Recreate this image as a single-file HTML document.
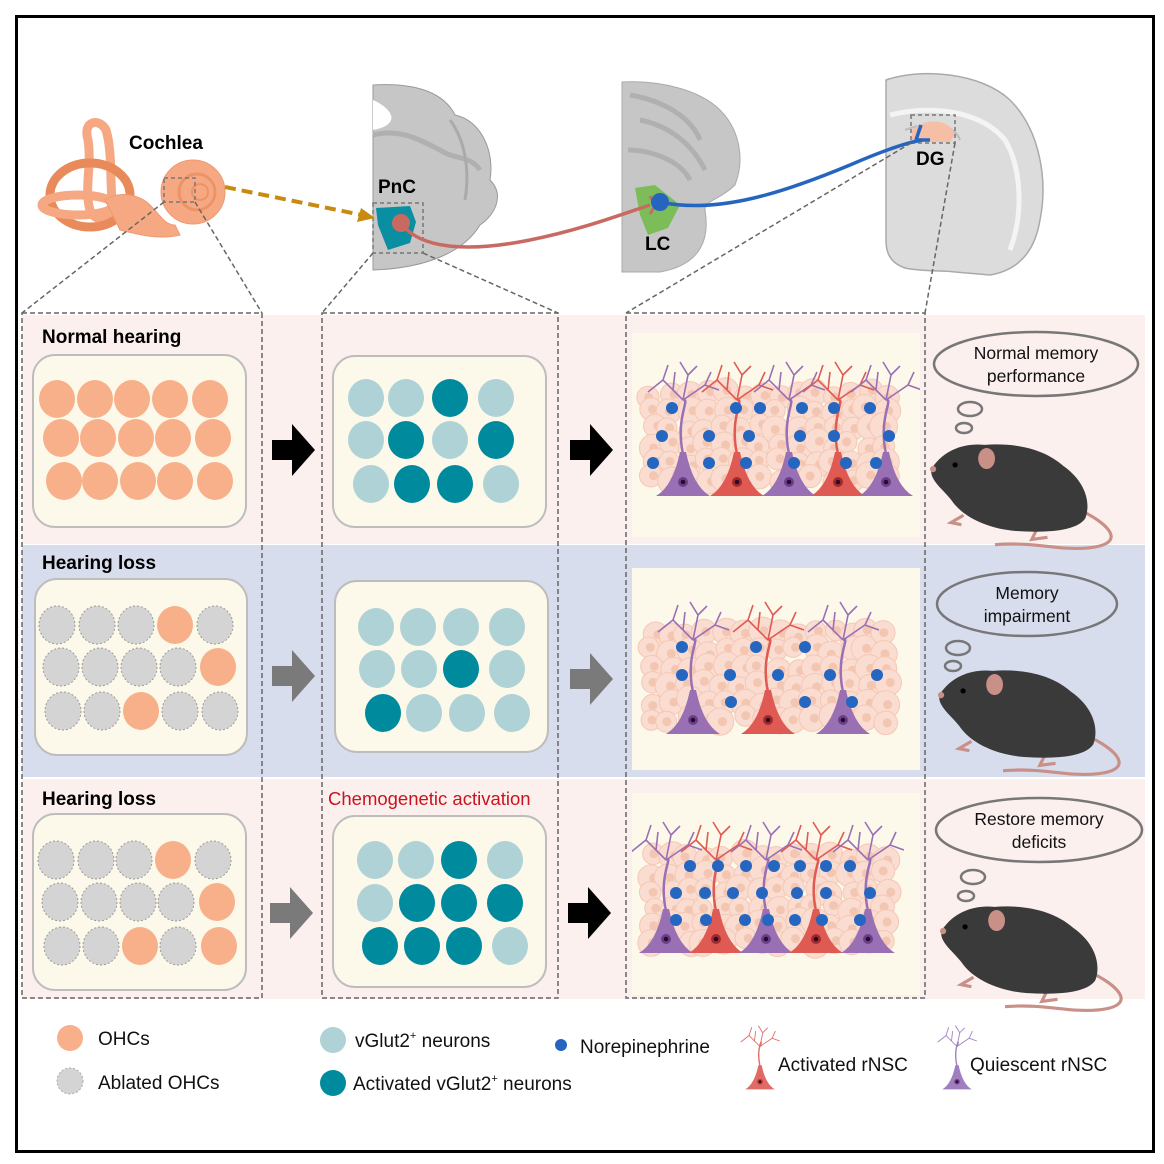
<!DOCTYPE html>
<html><head><meta charset="utf-8"><style>
html,body{margin:0;padding:0;background:#fff}
svg{display:block;font-family:"Liberation Sans",Arial,sans-serif}
</style></head><body>
<svg id="s" width="1164" height="1164" viewBox="0 0 1164 1164" xmlns="http://www.w3.org/2000/svg">
<rect x="0" y="0" width="1164" height="1164" fill="#fff"/>
<rect x="16.5" y="16.5" width="1137" height="1135" fill="none" stroke="#000" stroke-width="3"/>
<rect x="22" y="315" width="1123" height="229" fill="#fcf0ee"/>
<rect x="22" y="545" width="1123" height="232" fill="#d8ddee"/>
<rect x="22" y="779" width="1123" height="220" fill="#fcf0ee"/>
<defs>
<clipPath id="c1"><rect x="632" y="333" width="288" height="204"/></clipPath>
<clipPath id="c2"><rect x="632" y="568" width="288" height="202"/></clipPath>
<clipPath id="c3"><rect x="632" y="793" width="288" height="202"/></clipPath>
</defs>

<g fill="#f6a882" stroke="#ee9a72" stroke-width="1">
<path d="M88,140 C82,120 100,118 106,130 C112,150 110,175 112,200 C114,220 96,225 90,210 C84,190 92,165 88,140 Z" fill="none" stroke="#f6a882" stroke-width="9"/>
<ellipse cx="90" cy="195" rx="40" ry="32" fill="none" stroke="#e88a5a" stroke-width="9"/>
<ellipse cx="78" cy="205" rx="36" ry="10" fill="none" stroke="#f6a882" stroke-width="9"/>
<path d="M105,200 C120,190 140,195 150,205 C160,215 165,225 175,225 L180,235 C160,240 140,235 120,230 Z"/>
<circle cx="193" cy="192" r="32"/>
<circle cx="197" cy="192" r="18" fill="none" stroke="#ec9468" stroke-width="3"/>
<circle cx="200" cy="192" r="8" fill="none" stroke="#ec9468" stroke-width="2"/>
</g>
<text x="129" y="149" font-size="19" font-weight="bold">Cochlea</text>
<rect x="164" y="178" width="31" height="24" fill="none" stroke="#777" stroke-width="1.5" stroke-dasharray="4,3"/>
<path d="M373,85 C420,82 445,95 455,115 C480,120 495,150 490,180 C505,195 495,215 480,225 C465,250 430,268 373,270 Z" fill="#c6c6c6" stroke="#999" stroke-width="1"/>
<path d="M373,135 C400,128 420,140 440,150 C455,160 470,155 480,170" fill="none" stroke="#b0b0b0" stroke-width="5"/>
<path d="M373,100 C395,110 400,125 373,130 Z" fill="#fff"/>
<path d="M450,120 C465,140 470,170 465,200" fill="none" stroke="#aaa" stroke-width="3"/>
<path d="M376,208 L410,206 L416,222 L410,243 L388,250 L378,225 Z" fill="#0a8ea2"/>
<circle cx="401" cy="223" r="9" fill="#c86a62"/>
<rect x="373" y="203" width="50" height="50" fill="none" stroke="#777" stroke-width="1.5" stroke-dasharray="4,3"/>
<text x="378" y="193" font-size="19" font-weight="bold">PnC</text>
<path d="M622,82 C660,80 700,90 720,110 C740,130 745,160 735,185 C720,200 705,200 705,210 C710,240 700,265 660,272 L622,272 Z" fill="#c6c6c6" stroke="#aaa" stroke-width="1"/>
<path d="M630,95 C660,100 690,115 700,140 M640,120 C665,125 690,140 705,170 M628,150 C650,150 680,160 690,180" fill="none" stroke="#b0b0b0" stroke-width="5"/>
<path d="M635,188 L655,185 L680,205 L668,228 L648,235 L640,215 Z" fill="#7cbd5a"/>
<text x="645" y="250" font-size="19" font-weight="bold">LC</text>
<path d="M886,80 C920,68 980,72 1010,100 C1040,130 1048,180 1040,220 C1035,250 1020,270 990,275 L955,272 C940,270 925,272 905,268 C888,262 886,250 886,240 Z" fill="#dcdcdc" stroke="#aaa" stroke-width="1.5"/>
<path d="M890,115 C930,105 980,110 1005,140 C1020,165 1025,210 1010,250" fill="none" stroke="#f4f4f4" stroke-width="5"/>
<path d="M905,130 C930,120 955,125 960,140" fill="none" stroke="#bbb" stroke-width="2"/>
<path d="M912,130 C925,118 950,118 955,135 L950,142 L912,142 Z" fill="#f4bfa5"/>
<rect x="911" y="115" width="44" height="28" fill="none" stroke="#777" stroke-width="1.5" stroke-dasharray="4,3"/>
<text x="916" y="165" font-size="19" font-weight="bold">DG</text>
<path d="M225,187 L362,215" stroke="#c98a10" stroke-width="4" stroke-dasharray="11,6" fill="none"/>
<path d="M375,218 L357,222 L361,208 Z" fill="#c98a10"/>
<path d="M401,223 C420,250 470,252 530,240 C580,230 620,215 650,205" stroke="#c86a62" stroke-width="3.5" fill="none"/>
<path d="M650,196 L655,206 L650,214" stroke="#c86a62" stroke-width="3" fill="none"/>
<path d="M660,202 C720,215 790,190 850,165 C880,152 905,143 922,140" stroke="#2565c0" stroke-width="3.5" fill="none"/>
<path d="M916,140 L921,125 M916,140 L930,140" stroke="#2565c0" stroke-width="3.5" fill="none"/>
<circle cx="660" cy="202" r="9" fill="#2565c0"/>
<g stroke="#666" stroke-width="1.5" stroke-dasharray="5,3" fill="none">
<path d="M164,202 L22,313 M195,202 L262,313"/>
<path d="M373,253 L322,313 M423,253 L558,313"/>
<path d="M911,143 L626,313 M955,143 L925,313"/>
<rect x="22" y="313" width="240" height="685"/>
<rect x="322" y="313" width="236" height="685"/>
<rect x="626" y="313" width="299" height="685"/>
</g>

<text x="42" y="343" font-size="19" font-weight="bold">Normal hearing</text>
<text x="42" y="569" font-size="19" font-weight="bold">Hearing loss</text>
<text x="42" y="805" font-size="19" font-weight="bold">Hearing loss</text>
<text x="328" y="805" font-size="18.5" fill="#c8141e">Chemogenetic activation</text>

<g fill="#fdf9ea" stroke="#bdbdbd" stroke-width="2">
<rect x="33" y="355" width="213" height="172" rx="22"/>
<rect x="35" y="579" width="212" height="176" rx="22"/>
<rect x="33" y="814" width="213" height="176" rx="22"/>
<rect x="333" y="356" width="213" height="171" rx="22"/>
<rect x="335" y="581" width="213" height="171" rx="22"/>
<rect x="333" y="816" width="213" height="171" rx="22"/>
</g>
<g fill="#fdf9ea">
<rect x="632" y="333" width="288" height="204"/>
<rect x="632" y="568" width="288" height="202"/>
<rect x="632" y="793" width="288" height="202"/>
</g>
<g id="dots"></g>

<g>
<path d="M272,440 h20 v-16 l23,26 l-23,26 v-16 h-20 Z" fill="#000"/>
<path d="M272,666 h20 v-16 l23,26 l-23,26 v-16 h-20 Z" fill="#7a7a7a"/>
<path d="M270,903 h20 v-16 l23,26 l-23,26 v-16 h-20 Z" fill="#7a7a7a"/>
<path d="M570,440 h20 v-16 l23,26 l-23,26 v-16 h-20 Z" fill="#000"/>
<path d="M570,669 h20 v-16 l23,26 l-23,26 v-16 h-20 Z" fill="#7a7a7a"/>
<path d="M568,903 h20 v-16 l23,26 l-23,26 v-16 h-20 Z" fill="#000"/>
</g>

<g id="t1" clip-path="url(#c1)"></g>
<g id="t2" clip-path="url(#c2)"></g>
<g id="t3" clip-path="url(#c3)"></g>

<g fill="#fcf0ee" stroke="#777" stroke-width="2.5">
<ellipse cx="1036" cy="364" rx="102" ry="32"/>
<ellipse cx="970" cy="409" rx="12" ry="7"/><ellipse cx="964" cy="428" rx="8" ry="5"/>
<ellipse cx="1027" cy="604" rx="90" ry="32" fill="#d8ddee"/>
<ellipse cx="958" cy="648" rx="12" ry="7" fill="#d8ddee"/><ellipse cx="953" cy="666" rx="8" ry="5" fill="#d8ddee"/>
<ellipse cx="1039" cy="830" rx="103" ry="32"/>
<ellipse cx="973" cy="877" rx="12" ry="7"/><ellipse cx="966" cy="896" rx="8" ry="5"/>
</g>
<g font-size="17.5" text-anchor="middle" fill="#111">
<text x="1036" y="359">Normal memory</text><text x="1036" y="382">performance</text>
<text x="1027" y="599">Memory</text><text x="1027" y="622">impairment</text>
<text x="1039" y="825">Restore memory</text><text x="1039" y="848">deficits</text>
</g>

<defs>
<g id="mouse">
<path d="M145,42 C170,55 185,72 150,76 C120,79 100,70 60,73" stroke="#c99088" stroke-width="3" fill="none"/>
<path d="M30,45 L18,52 L28,54 M100,58 L95,68 L110,66" stroke="#c99088" stroke-width="3" fill="none"/>
<path d="M0,0 C12,-18 32,-24 50,-22 C75,-24 105,-20 125,-2 C145,12 152,32 146,48 C138,60 110,62 80,60 C55,58 30,48 18,30 C10,20 -4,10 0,0 Z" fill="#3b3a3a"/>
<ellipse cx="52" cy="-9" rx="8" ry="10" fill="#c99088"/>
<circle cx="22" cy="-3" r="2.5" fill="#000"/>
<circle cx="1" cy="1" r="3" fill="#c99088"/>
</g>
</defs>
<use href="#mouse" transform="translate(932,468) scale(1.05)"/>
<use href="#mouse" transform="translate(940,694) scale(1.05)"/>
<use href="#mouse" transform="translate(942,930) scale(1.05)"/>

<g font-size="19" fill="#111">
<circle cx="70" cy="1038" r="13" fill="#f8b08a"/>
<circle cx="70" cy="1081" r="13" fill="#d4d4d4" stroke="#aaa" stroke-dasharray="2,2"/>
<text x="98" y="1045">OHCs</text>
<text x="98" y="1089">Ablated OHCs</text>
<circle cx="333" cy="1040" r="13" fill="#aed2d5"/>
<circle cx="333" cy="1083" r="13" fill="#008a9e"/>
<text x="355" y="1047">vGlut2<tspan font-size="11" dy="-8">+</tspan><tspan dy="8"> neurons</tspan></text>
<text x="353" y="1090">Activated vGlut2<tspan font-size="11" dy="-8">+</tspan><tspan dy="8"> neurons</tspan></text>
<circle cx="561" cy="1045" r="6" fill="#2565c0"/>
<text x="580" y="1053">Norepinephrine</text>
<text x="778" y="1071">Activated rNSC</text>
<text x="970" y="1071">Quiescent rNSC</text>
</g>
<g id="legn"></g>
</svg>
<script>
var NS="http://www.w3.org/2000/svg";
function el(p,t,a){var e=document.createElementNS(NS,t);for(var k in a)e.setAttribute(k,a[k]);p.appendChild(e);return e;}
var D=document.getElementById("dots");
var O="#f8b08a",G="#d4d4d4",L="#aed2d5",T="#008a9e";
function grid(rows){rows.forEach(function(r){var y=r[0];r[1].forEach(function(c,i){var x=r[2][i];
 var a={cx:x,cy:y,rx:18,ry:19,fill:c};if(c==G){a.stroke="#999";a["stroke-dasharray"]="2,2";a["stroke-width"]=1;}el(D,"ellipse",a);});});}
grid([[399,[O,O,O,O,O],[57,95,132,170,210]],[438,[O,O,O,O,O],[61,98,136,173,213]],[481,[O,O,O,O,O],[64,100,138,175,215]]]);
grid([[625,[G,G,G,O,G],[57,97,136,175,215]],[667,[G,G,G,G,O],[61,100,139,178,218]],[711,[G,G,O,G,G],[63,102,141,180,220]]]);
grid([[860,[G,G,G,O,G],[56,96,134,173,213]],[902,[G,G,G,G,O],[60,99,138,176,217]],[946,[G,G,O,G,O],[62,101,140,178,219]]]);
grid([[398,[L,L,T,L],[366,406,450,496]],[440,[L,T,L,T],[366,406,450,496]],[484,[L,T,T,L],[371,412,455,501]]]);
grid([[627,[L,L,L,L],[376,418,461,507]],[669,[L,L,T,L],[377,419,461,507]],[713,[T,L,L,L],[383,424,467,512]]]);
grid([[860,[L,L,T,L],[375,416,459,505]],[903,[L,T,T,T],[375,417,459,505]],[946,[T,T,T,L],[380,422,464,510]]]);

var seed=7;function rnd(){seed=(seed*16807)%2147483647;return seed/2147483647;}
function tissue(TS,y0,y1){for(var y=y0;y<=y1;y+=17){for(var x=652;x<=902;x+=18){var cx=x+rnd()*8-4,cy=y+rnd()*8-4,r=10+rnd()*4;
 el(TS,"circle",{cx:cx,cy:cy,r:r,fill:"#fadcd0",stroke:"#f4c8b6","stroke-width":1});
 el(TS,"circle",{cx:cx+rnd()*3,cy:cy,r:4.5,fill:"#f3c6b2"});}}}
function neuron(g,x,base,top,col,dark,s){s=s||1;
 var st=col;
 el(g,"path",{d:"M"+x+","+(base-34*s)+" C"+(x-8*s)+","+(base-70*s)+" "+(x+8*s)+","+(base-90*s)+" "+x+","+(top+30*s),stroke:st,"stroke-width":2.5*s,fill:"none"});
 var d="";
 d+="M"+x+","+(top+30*s)+" L"+(x-20*s)+","+(top+10*s)+" L"+(x-35*s)+","+(top+22*s)+" M"+(x-20*s)+","+(top+10*s)+" L"+(x-15*s)+","+(top-5*s)+
 " M"+x+","+(top+30*s)+" L"+(x+5*s)+","+(top+5*s)+" L"+(x-3*s)+","+(top-8*s)+" M"+(x+5*s)+","+(top+5*s)+" L"+(x+14*s)+","+(top-4*s)+
 " M"+x+","+(top+30*s)+" L"+(x+22*s)+","+(top+15*s)+" L"+(x+36*s)+","+(top+20*s)+" M"+(x+22*s)+","+(top+15*s)+" L"+(x+28*s)+","+(top+2*s)+
 " M"+(x-10*s)+","+(top+20*s)+" L"+(x-8*s)+","+(top+2*s);
 el(g,"path",{d:d,stroke:st,"stroke-width":1.6*s,fill:"none"});
 el(g,"path",{d:"M"+(x-27*s)+","+(base+8*s)+" L"+(x+27*s)+","+(base+8*s)+" Q"+(x+10*s)+","+(base-2*s)+" "+(x+3*s)+","+(base-36*s)+" L"+(x-3*s)+","+(base-36*s)+" Q"+(x-10*s)+","+(base-2*s)+" "+(x-27*s)+","+(base+8*s)+" Z",fill:col});
 el(g,"circle",{cx:x,cy:base-6*s,r:5*s,fill:dark});
 el(g,"circle",{cx:x,cy:base-6*s,r:2.3*s,fill:"#2a0a2a"});
}
var P="#9a70b5",PD="#6a3f8a",R="#df5a52",RD="#a32a2a";
function blue(TS,arr){arr.forEach(function(r){r[1].forEach(function(x){el(TS,"circle",{cx:x,cy:r[0],r:6,fill:"#2566c0"});});});}
var T1=document.getElementById("t1"),T2=document.getElementById("t2"),T3=document.getElementById("t3");
tissue(T1,394,490);
[[683,P,PD],[737,R,RD],[789,P,PD],[838,R,RD],[886,P,PD]].forEach(function(n){neuron(T1,n[0],488,370,n[1],n[2]);});
blue(T1,[[408,[672,736,760,802,834,870]],[436,[662,709,749,800,834,889]],[463,[653,709,746,794,846,876]]]);
tissue(T2,634,720);
[[693,P,PD],[768,R,RD],[843,P,PD]].forEach(function(n){neuron(T2,n[0],726,610,n[1],n[2]);});
blue(T2,[[647,[682,756,805]],[675,[682,730,778,830,877]],[702,[731,805,852]]]);
tissue(T3,857,943);
[[666,P,PD],[716,R,RD],[766,P,PD],[816,R,RD],[868,P,PD]].forEach(function(n){neuron(T3,n[0],945,830,n[1],n[2]);});
blue(T3,[[866,[690,718,746,774,800,826,850]],[893,[676,705,733,762,797,826,870]],[920,[676,706,745,768,795,822,860]]]);
var LG=document.getElementById("legn");
neuron(LG,760,1085,1030,"#e06a64","#b33",0.55);
neuron(LG,957,1085,1030,"#a07ec0","#6a3f8a",0.55);
</script>
</body></html>
